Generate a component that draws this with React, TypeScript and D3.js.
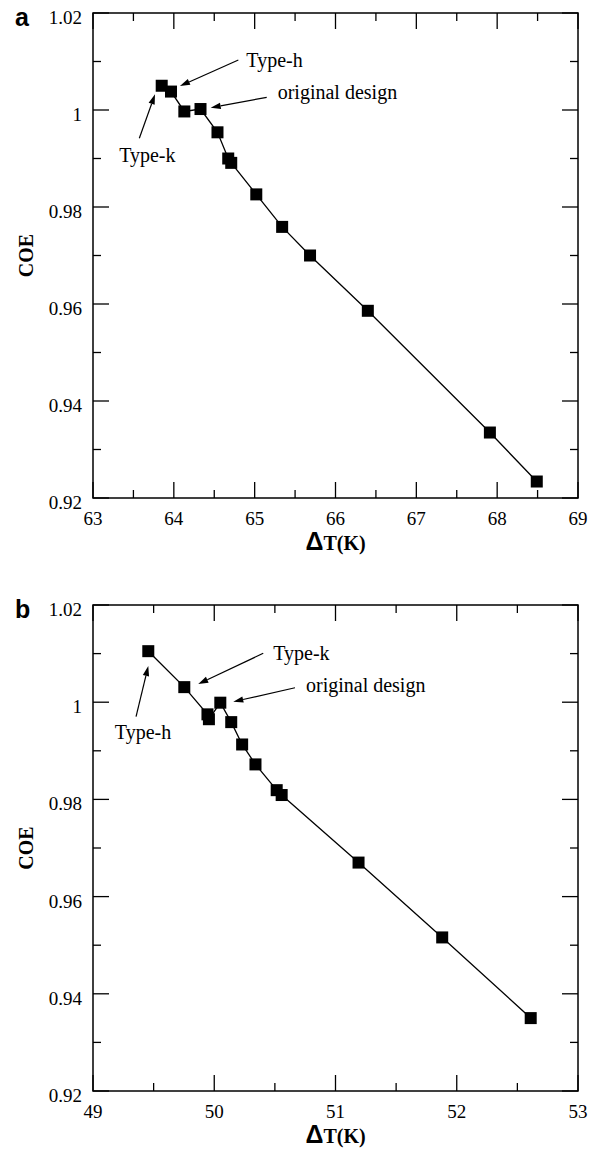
import { useEffect, useRef } from 'react';
import * as d3 from 'd3';

// panel a
const dtA = [63.85, 63.965, 64.13, 64.33, 64.54, 64.673, 64.71, 65.02, 65.34, 65.685, 66.4, 67.91, 68.49];
const coeA = [1.005, 1.0038, 0.9997, 1.0002, 0.9954, 0.99, 0.9891, 0.9826, 0.9759, 0.97, 0.9586, 0.9335, 0.9234];
const xTicksA = [63, 64, 65, 66, 67, 68, 69];

// panel b
const dtB = [49.456, 49.753, 49.944, 49.956, 50.05, 50.14, 50.23, 50.34, 50.515, 50.556, 51.19, 51.88, 52.61];
const coeB = [1.0105, 1.0031, 0.9975, 0.9965, 0.9999, 0.9959, 0.9913, 0.9872, 0.9819, 0.9809, 0.967, 0.9516, 0.935];
const xTicksB = [49, 50, 51, 52, 53];

const yTicks = [0.92, 0.94, 0.96, 0.98, 1, 1.02];
const yTickLabels = ['0.92', '0.94', '0.96', '0.98', '1', '1.02'];

// annotations: tip and tail of arrow in data units
const notesA = [
  { text: 'Type-h', tip: [64.076, 1.00495], tail: [64.798, 1.01031], anchor: 'start', dx: 8, dy: 0 },
  { text: 'original design', tip: [64.456, 1.00047], tail: [65.149, 1.00262], anchor: 'start', dx: 11, dy: -5 },
  { text: 'Type-k', tip: [63.767, 1.00324], tail: [63.573, 0.99416], anchor: 'middle', dx: 8, dy: 17 },
];
const notesB = [
  { text: 'Type-h', tip: [49.456, 1.00745], tail: [49.355, 0.99702], anchor: 'middle', dx: 7, dy: 15 },
  { text: 'Type-k', tip: [49.868, 1.00374], tail: [50.404, 1.01006], anchor: 'start', dx: 10, dy: 0 },
  { text: 'original design', tip: [50.157, 1.0001], tail: [50.666, 1.00298], anchor: 'start', dx: 11, dy: -3 },
];

const serif = "'Liberation Serif', Tinos, 'Times New Roman', 'DejaVu Serif', serif";
const sans = "'Liberation Sans', Arimo, Arial, sans-serif";

function drawPanel(svg, opts) {
  const { top, bottom, left, right, xDomain, xTicks, xs, ys, notes, letter } = opts;
  const x = d3.scaleLinear().domain(xDomain).range([left, right]);
  const y = d3.scaleLinear().domain([0.92, 1.02]).range([bottom, top]);
  const g = svg.append('g');

  // frame
  g.append('rect')
    .attr('x', left).attr('y', top)
    .attr('width', right - left).attr('height', bottom - top)
    .attr('fill', 'none').attr('stroke', '#000').attr('stroke-width', 1.5);

  // x ticks (inward, top and bottom)
  const xMinor = d3.range(xDomain[0], xDomain[1] + 0.001, 0.5);
  xMinor.forEach((v) => {
    const major = Math.abs(v - Math.round(v)) < 1e-6;
    const len = major ? 16 : 8;
    g.append('line').attr('x1', x(v)).attr('x2', x(v)).attr('y1', bottom).attr('y2', bottom - len)
      .attr('stroke', '#000').attr('stroke-width', 1.3);
    g.append('line').attr('x1', x(v)).attr('x2', x(v)).attr('y1', top).attr('y2', top + len)
      .attr('stroke', '#000').attr('stroke-width', 1.3);
  });
  g.selectAll('.xl').data(xTicks).enter().append('text')
    .attr('x', (d) => x(d)).attr('y', bottom + 27)
    .attr('text-anchor', 'middle')
    .style('font-family', serif).style('font-size', '19px')
    .text((d) => d);

  // y ticks
  const yMinor = d3.range(0, 11).map((i) => 0.92 + i * 0.01);
  yMinor.forEach((v, i) => {
    const len = i % 2 === 0 ? 16 : 8;
    g.append('line').attr('x1', left).attr('x2', left + len).attr('y1', y(v)).attr('y2', y(v))
      .attr('stroke', '#000').attr('stroke-width', 1.3);
    g.append('line').attr('x1', right).attr('x2', right - len).attr('y1', y(v)).attr('y2', y(v))
      .attr('stroke', '#000').attr('stroke-width', 1.3);
  });
  g.selectAll('.yl').data(yTicks).enter().append('text')
    .attr('x', left - 11).attr('y', (d) => y(d) + 11)
    .attr('text-anchor', 'end')
    .style('font-family', serif).style('font-size', '19px')
    .text((d, i) => yTickLabels[i]);

  // axis titles
  g.append('text')
    .attr('transform', `translate(33, ${(top + bottom) / 2}) rotate(-90)`)
    .attr('text-anchor', 'middle')
    .style('font-family', serif).style('font-weight', 'bold').style('font-size', '20px')
    .text('COE');
  const xl = g.append('text')
    .attr('x', (left + right) / 2).attr('y', bottom + 52)
    .attr('text-anchor', 'middle')
    .style('font-family', serif).style('font-weight', 'bold').style('font-size', '20px');
  xl.append('tspan').style('font-family', sans).style('font-size', '25px').text('Δ');
  xl.append('tspan').text('T(K)');

  // panel letter
  g.append('text')
    .attr('x', 15).attr('y', top + 13)
    .style('font-family', sans)
    .style('font-weight', 'bold').style('font-size', '25px')
    .text(letter);

  // line + markers
  const pts = xs.map((v, i) => [v, ys[i]]);
  const line = d3.line().x((d) => x(d[0])).y((d) => y(d[1]));
  g.append('path').datum(pts).attr('d', line)
    .attr('fill', 'none').attr('stroke', '#000').attr('stroke-width', 1.3);
  const s = 12;
  g.selectAll('.pt').data(pts).enter().append('rect')
    .attr('x', (d) => x(d[0]) - s / 2).attr('y', (d) => y(d[1]) - s / 2)
    .attr('width', s).attr('height', s).attr('fill', '#000');

  // annotations
  notes.forEach((n) => {
    const tx = x(n.tip[0]), ty = y(n.tip[1]);
    const sx = x(n.tail[0]), sy = y(n.tail[1]);
    const ang = Math.atan2(ty - sy, tx - sx);
    const hl = 10, hw = 3.2;
    const bx = tx - hl * Math.cos(ang), by = ty - hl * Math.sin(ang);
    g.append('line').attr('x1', sx).attr('y1', sy).attr('x2', bx).attr('y2', by)
      .attr('stroke', '#000').attr('stroke-width', 1.2);
    g.append('path')
      .attr('d', `M${tx},${ty}L${bx - hw * Math.sin(ang)},${by + hw * Math.cos(ang)}L${bx + hw * Math.sin(ang)},${by - hw * Math.cos(ang)}Z`)
      .attr('fill', '#000');
    g.append('text')
      .attr('x', sx + n.dx).attr('y', sy + n.dy)
      .attr('dominant-baseline', 'central')
      .attr('text-anchor', n.anchor)
      .style('font-family', serif).style('font-size', '20px')
      .text(n.text);
  });
}

export default function App() {
  const svgRef = useRef(null);

  useEffect(() => {
    const svg = d3.select(svgRef.current);
    svg.selectAll('*').remove();
    drawPanel(svg, {
      top: 13, bottom: 498, left: 93, right: 578,
      xDomain: [63, 69], xTicks: xTicksA, xs: dtA, ys: coeA, notes: notesA, letter: 'a',
    });
    drawPanel(svg, {
      top: 605, bottom: 1091, left: 93, right: 578,
      xDomain: [49, 53], xTicks: xTicksB, xs: dtB, ys: coeB, notes: notesB, letter: 'b',
    });
  }, []);

  return (
    <svg
      ref={svgRef}
      width="601"
      height="1152"
      style={{ position: 'absolute', left: 0, top: 0, background: '#fff' }}
    />
  );
}
